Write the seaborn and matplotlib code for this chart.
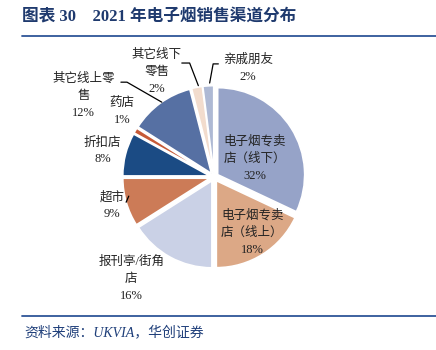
import numpy as np
import matplotlib
matplotlib.use("Agg")
import matplotlib.pyplot as plt
from matplotlib.lines import Line2D
import seaborn as sns

sns.set_style("white")
plt.rcParams['font.family'] = ['Liberation Serif', 'Noto Sans CJK SC', 'DejaVu Sans']

# 数据
labels = ['电子烟专卖\n店（线下）', '电子烟专卖\n店（线上）', '报刊亭/街角\n店', '超市', '折扣店',
          '药店', '其它线上零\n售', '其它线下\n零售', '亲戚朋友']
shares = [32, 18, 16, 9, 8, 1, 12, 2, 2]
colors = ['#96A3C8', '#DCA886', '#CAD1E6', '#CC7B57', '#1B4B84',
          '#C65A37', '#5670A3', '#F2DCCD', '#AEB9D4']

# 标签位置（半径单位）
label_pos = [(0.47, 0.21), (0.44, -0.64), (-0.95, -1.17), (-1.17, -0.33), (-1.28, 0.30),
             (-1.06, 0.75), (-1.50, 0.93), (-0.66, 1.21), (0.39, 1.25)]
leaders = {
    3: [(-1.01, -0.29), (-0.98, -0.22)],
    6: [(-1.07, 1.09), (-1.00, 1.09), (-0.60, 0.86)],
    7: [(-0.37, 1.31), (-0.28, 1.31), (-0.18, 1.05)],
    8: [(0.05, 1.30), (-0.01, 1.30), (-0.05, 1.08)],
}
dy = 17 / 87  # 行距

fig = plt.figure(figsize=(4.36, 3.5), dpi=100)
ax = fig.add_axes([0, 0, 1, 1])

ax.pie(shares, colors=colors, startangle=90, counterclock=False,
       explode=[0.05] * len(shares), radius=1.0,
       wedgeprops=dict(edgecolor='white', linewidth=1.2))

for i, (lab, v) in enumerate(zip(labels, shares)):
    x, y = label_pos[i]
    rows = f'{lab}\n{v}%'.split('\n')
    top = y + (len(rows) - 1) / 2 * dy
    for k, r in enumerate(rows):
        ax.text(x, top - k * dy, r, ha='center', va='center', fontsize=9, color='#222222')

for i, pts in leaders.items():
    xs, ys = zip(*pts)
    ax.plot(xs, ys, color='black', lw=0.9)

ax.set_xlim(-214 / 87, (436 - 214) / 87)
ax.set_ylim(-(350 - 177) / 87, 177 / 87)
ax.set_aspect('auto')
ax.axis('off')

# 标题与来源
fig.text(22 / 436, 1 - 17 / 350, '图表 30    2021 年电子烟销售渠道分布', fontsize=12,
         fontweight='bold', color='#1F3A6E', ha='left', va='center')
fig.add_artist(Line2D([22 / 436, 1], [1 - 36 / 350] * 2, color='#2E5597', lw=1.3))
fig.add_artist(Line2D([22 / 436, 1], [1 - 316 / 350] * 2, color='#2E5597', lw=1.3))
fig.text(24 / 436, 1 - 332 / 350, '资料来源：UKVIA，华创证券', fontsize=10,
         style='italic', color='#1F3F7A', ha='left', va='center')

fig.savefig('out.png', dpi=100)
